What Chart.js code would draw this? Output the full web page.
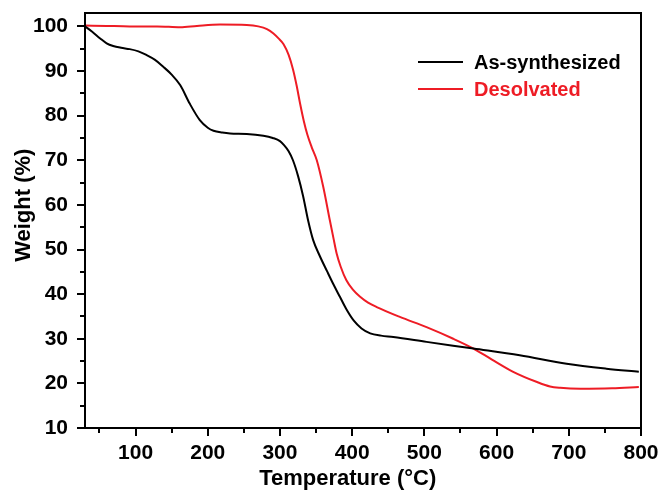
<!DOCTYPE html>
<html><head><meta charset="utf-8">
<script src="https://cdn.jsdelivr.net/npm/chart.js@4"></script>
<style>html,body{margin:0;padding:0;background:#fff}</style>
</head><body>
<canvas id="c" width="662" height="491" style="width:662px;height:491px;display:block"></canvas>
<script>
const seriesNames = ['As-synthesized', 'Desolvated'];
const seriesColors = ['#000000', '#ee1c25'];

const tempAs   = [30, 40, 51, 60, 69, 80, 92, 104, 115, 127, 138, 150, 162, 175, 189, 200, 208, 220, 231, 254, 277, 290, 300, 305, 312, 318, 325, 332, 339, 346, 355, 365, 374, 383, 392, 402, 413, 425, 440, 457, 503, 568, 632, 697, 752, 797];
const weightAs = [100, 98.8, 97.3, 96.2, 95.6, 95.2, 94.9, 94.4, 93.6, 92.5, 91, 89.2, 86.8, 82.7, 79, 77.3, 76.6, 76.2, 76, 75.9, 75.5, 75, 74.3, 73.5, 72, 70, 66.5, 62, 56.5, 52.1, 48.6, 45.2, 42.2, 39.4, 36.6, 34.1, 32.3, 31.2, 30.7, 30.4, 29.3, 27.8, 26.3, 24.4, 23.3, 22.6];

const tempDe   = [30, 60, 92, 130, 162, 185, 217, 254, 270, 282, 291, 298, 305, 312, 318, 323, 328, 333, 338, 344, 351, 360, 369, 374, 378.5, 384, 392, 401, 411, 422, 434, 466, 503, 540, 568, 593, 623, 656, 674, 688, 716, 760, 797];
const weightDe = [100.2, 100.1, 100, 100, 99.8, 100.1, 100.4, 100.3, 100, 99.4, 98.4, 97.3, 96, 93.6, 90.4, 86.8, 82.6, 78.8, 75.7, 72.9, 70, 64, 56.6, 52.6, 49.1, 46.2, 43.1, 41, 39.4, 38.1, 37.1, 34.9, 32.6, 30, 27.8, 25.4, 22.6, 20.3, 19.3, 19, 18.8, 18.9, 19.2];

const xTickValues  = [100, 200, 300, 400, 500, 600, 700, 800];
const xMinorValues = [50, 150, 250, 350, 450, 550, 650, 750];
const yTickValues  = [10, 20, 30, 40, 50, 60, 70, 80, 90, 100];
const yMinorValues = [15, 25, 35, 45, 55, 65, 75, 85, 95];

const xTitle = 'Temperature (°C)';
const yTitle = 'Weight (%)';

const FONT = "'Liberation Sans', Arial, Helvetica, sans-serif";

function pairs(xs, ys) { return xs.map((x, i) => ({x: x, y: ys[i]})); }

const framePlugin = {
  id: 'frame',
  afterDraw(chart) {
    const ctx = chart.ctx;
    const a = chart.chartArea;
    const xs = chart.scales.x, ys = chart.scales.y;
    ctx.save();
    ctx.strokeStyle = '#000';
    ctx.lineWidth = 2;
    ctx.beginPath();
    xTickValues.forEach(v => { const p = Math.round(xs.getPixelForValue(v)); ctx.moveTo(p, a.bottom); ctx.lineTo(p, a.bottom + 8); });
    xMinorValues.forEach(v => { const p = Math.round(xs.getPixelForValue(v)); ctx.moveTo(p, a.bottom); ctx.lineTo(p, a.bottom + 5); });
    yTickValues.forEach(v => { const p = Math.round(ys.getPixelForValue(v)); ctx.moveTo(a.left, p); ctx.lineTo(a.left - 8, p); });
    yMinorValues.forEach(v => { const p = Math.round(ys.getPixelForValue(v)); ctx.moveTo(a.left, p); ctx.lineTo(a.left - 5, p); });
    ctx.stroke();
    ctx.strokeRect(a.left, a.top, a.right - a.left, a.bottom - a.top);
    const lx = 418, ly0 = 62, dy = 27;
    ctx.font = 'bold 20px ' + FONT;
    ctx.textBaseline = 'middle';
    ctx.textAlign = 'left';
    chart.data.datasets.forEach((ds, i) => {
      const y = ly0 + i * dy;
      ctx.strokeStyle = ds.borderColor;
      ctx.lineWidth = 2;
      ctx.beginPath(); ctx.moveTo(lx, y); ctx.lineTo(lx + 45, y); ctx.stroke();
      ctx.fillStyle = ds.borderColor;
      ctx.fillText(ds.label, lx + 56, y + 1);
    });
    ctx.restore();
  }
};

new Chart(document.getElementById('c'), {
  type: 'line',
  data: {
    datasets: [
      { label: seriesNames[0], data: pairs(tempAs, weightAs), borderColor: seriesColors[0], borderWidth: 2, pointRadius: 0, cubicInterpolationMode: 'monotone', fill: false },
      { label: seriesNames[1], data: pairs(tempDe, weightDe), borderColor: seriesColors[1], borderWidth: 2, pointRadius: 0, cubicInterpolationMode: 'monotone', fill: false }
    ]
  },
  options: {
    responsive: false,
    animation: false,
    devicePixelRatio: 1,
    layout: { padding: { top: 13, right: 21, left: 0, bottom: 0 } },
    plugins: { legend: { display: false }, tooltip: { enabled: false } },
    scales: {
      x: {
        type: 'linear', min: 30, max: 800,
        afterBuildTicks: s => { s.ticks = xTickValues.map(v => ({value: v})); },
        afterFit: s => { s.height = 63; s.paddingLeft = 0; s.paddingRight = 0; },
        grid: { display: false },
        border: { display: false },
        ticks: { padding: 5, maxRotation: 0, autoSkip: false, color: '#000', font: { family: FONT, size: 21, weight: 'bold' } },
        title: { display: true, text: xTitle + '     ', color: '#000', padding: { top: 0, bottom: 0 }, font: { family: FONT, size: 22, weight: 'bold', lineHeight: 1.1 } }
      },
      y: {
        type: 'linear', min: 10, max: 103,
        afterBuildTicks: s => { s.ticks = yTickValues.map(v => ({value: v})); },
        afterFit: s => { s.width = 85; s.paddingTop = 0; s.paddingBottom = 0; },
        grid: { display: false },
        border: { display: false },
        ticks: { padding: 9, autoSkip: false, color: '#000', font: { family: FONT, size: 21, weight: 'bold' } },
        title: { display: true, text: '     ' + yTitle, color: '#000', padding: { top: 11, bottom: 0 }, font: { family: FONT, size: 22, weight: 'bold', lineHeight: 1.2 } }
      }
    }
  },
  plugins: [framePlugin]
});
</script>
</body></html>
